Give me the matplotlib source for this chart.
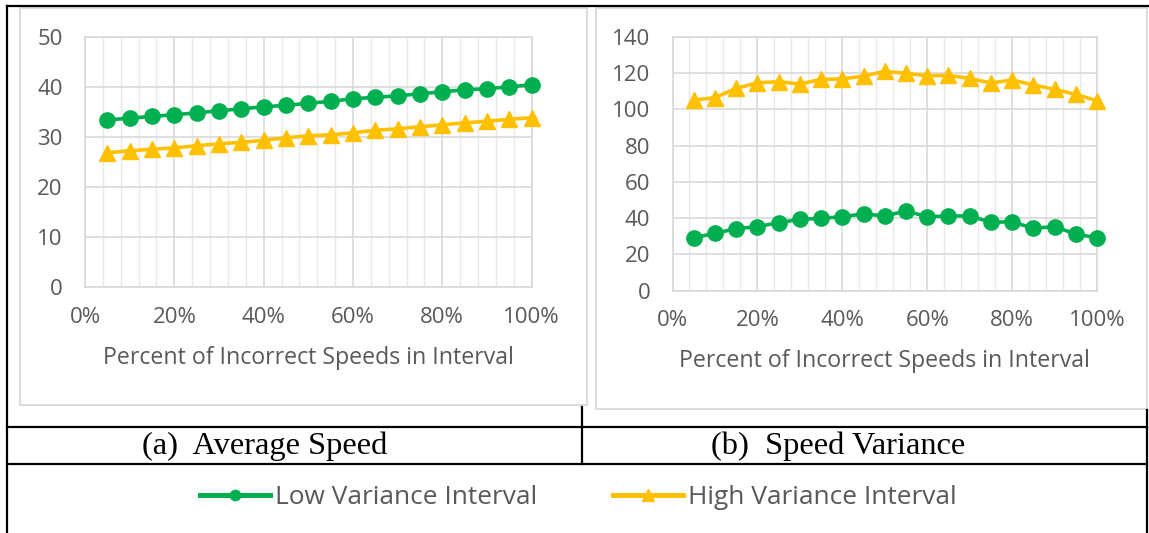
import matplotlib.pyplot as plt
from matplotlib.lines import Line2D
from matplotlib.patches import Rectangle
from matplotlib.ticker import MultipleLocator, PercentFormatter

# share of incorrect speeds in the interval
pct = [0.05, 0.10, 0.15, 0.20, 0.25, 0.30, 0.35, 0.40, 0.45, 0.50,
       0.55, 0.60, 0.65, 0.70, 0.75, 0.80, 0.85, 0.90, 0.95, 1.00]

# (a) average speed
avg_low = [33.5, 33.8, 34.2, 34.5, 34.9, 35.3, 35.7, 36.1, 36.4, 36.8,
           37.2, 37.7, 38.0, 38.3, 38.7, 39.1, 39.5, 39.7, 40.1, 40.5]
avg_high = [26.9, 27.3, 27.6, 27.9, 28.3, 28.7, 29.0, 29.4, 29.9, 30.3,
            30.5, 30.9, 31.4, 31.7, 32.1, 32.5, 32.9, 33.2, 33.6, 33.9]

# (b) speed variance
var_low = [29.2, 31.6, 34.2, 35.3, 37.5, 39.3, 39.9, 40.8, 42.3, 41.2,
           43.9, 40.8, 41.2, 41.2, 37.7, 38.0, 34.4, 35.3, 31.2, 29.2]
var_high = [105.1, 106.4, 111.5, 114.6, 115.2, 113.9, 116.5, 116.7, 118.3, 120.9,
            119.8, 118.5, 118.7, 117.0, 114.5, 116.1, 113.4, 111.0, 108.2, 104.7]

xlabel = 'Percent of Incorrect Speeds in Interval'
captions = ['(a)  Average Speed', '(b)  Speed Variance']
series_names = ['Low Variance Interval', 'High Variance Interval']

GREEN = '#00B050'
GOLD = '#FFC000'
TEXT = '#595959'
GRID = '#d9d9d9'

W, H = 1149, 533
fig = plt.figure(figsize=(W / 100, H / 100), dpi=100)
plt.rcParams['font.family'] = ['Open Sans', 'DejaVu Sans']


def px_box(x0, y0, x1, y1):
    # pixel box (top-left origin) -> figure fraction [l, b, w, h]
    return [x0 / W, 1 - y1 / H, (x1 - x0) / W, (y1 - y0) / H]


def hline(y, x0, x1, **kw):
    fig.add_artist(Line2D([x0 / W, x1 / W], [1 - y / H, 1 - y / H], **kw))


def vline(x, y0, y1, **kw):
    fig.add_artist(Line2D([x / W, x / W], [1 - y0 / H, 1 - y1 / H], **kw))


def style_axes(ax, ymax, ystep):
    ax.set_xlim(0, 1)
    ax.set_ylim(0, ymax)
    ax.xaxis.set_major_locator(MultipleLocator(0.2))
    ax.xaxis.set_minor_locator(MultipleLocator(0.04))
    ax.xaxis.set_major_formatter(PercentFormatter(1.0, decimals=0))
    ax.yaxis.set_major_locator(MultipleLocator(ystep))
    ax.grid(which='major', color=GRID, lw=1.2)
    ax.grid(which='minor', axis='x', color='#e8e8e8', lw=1.0)
    ax.set_axisbelow(True)
    for s in ax.spines.values():
        s.set_color(GRID)
        s.set_linewidth(1.2)
    ax.tick_params(which='both', length=0, colors=TEXT, labelsize=16)
    ax.tick_params(axis='y', pad=16)
    ax.tick_params(axis='x', pad=14)
    ax.set_xlabel(xlabel, color=TEXT, fontsize=16.7, labelpad=13)


def draw_series(ax, low, high):
    ax.plot(pct, low, color=GREEN, lw=2.6, marker='o', markersize=11,
            clip_on=False, zorder=3)
    ax.plot(pct, high, color=GOLD, lw=2.6, marker='^', markersize=12,
            clip_on=False, zorder=3)


# light chart frames
fig.add_artist(Rectangle((20 / W, 1 - 405 / H), 567 / W, 397 / H,
                         transform=fig.transFigure, fill=False,
                         edgecolor=GRID, lw=1.3))
fig.add_artist(Rectangle((596 / W, 1 - 409 / H), 551 / W, 401 / H,
                         transform=fig.transFigure, fill=False,
                         edgecolor=GRID, lw=1.3))

ax1 = fig.add_axes(px_box(85, 37.3, 531.6, 287.3))
style_axes(ax1, 50, 10)
draw_series(ax1, avg_low, avg_high)

ax2 = fig.add_axes(px_box(672.5, 36.7, 1097, 290.7))
style_axes(ax2, 140, 20)
draw_series(ax2, var_low, var_high)

# table rules
k = dict(color='black', lw=1.6)
hline(6, 7, 1148, **k)
vline(7, 6, 533, **k)
vline(1147, 410, 533, **k)
hline(427, 7, 1147, **k)
hline(464, 7, 1147, **k)
vline(582, 407, 464, **k)

# sub-captions
fig.text(142 / W, 1 - 446 / H, captions[0], family='Liberation Serif',
         fontsize=23.4, va='center', ha='left')
fig.text(711 / W, 1 - 446 / H, captions[1], family='Liberation Serif',
         fontsize=23.4, va='center', ha='left')

# shared legend
handles = [Line2D([], [], color=GREEN, lw=3.6, marker='o', markersize=7.5),
           Line2D([], [], color=GOLD, lw=3.6, marker='^', markersize=8.5)]
fig.legend(handles, series_names, loc='center left', ncol=2,
           bbox_to_anchor=(200 / W, 1 - 498 / H), frameon=False,
           fontsize=18.9, labelcolor=TEXT, handlelength=2.65,
           handletextpad=0.2, columnspacing=2.9,
           borderpad=0, borderaxespad=0)

fig.savefig('out.png', dpi=100)
